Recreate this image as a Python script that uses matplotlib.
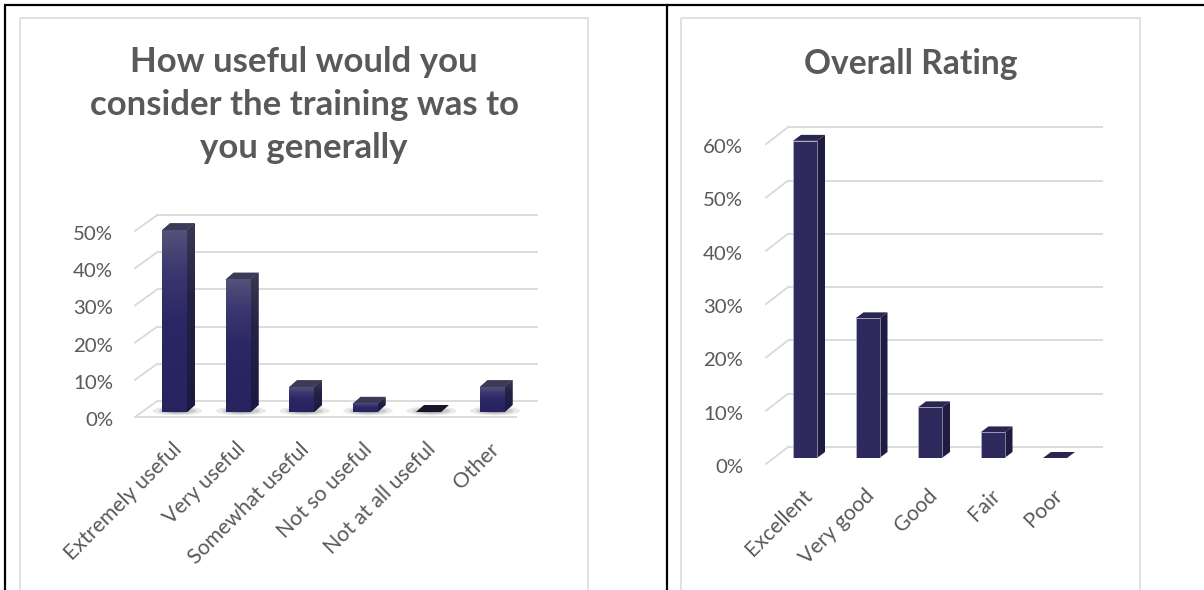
import matplotlib
matplotlib.use("Agg")
import matplotlib.pyplot as plt
import numpy as np
from matplotlib.patches import Polygon, Rectangle, Ellipse
from matplotlib.colors import LinearSegmentedColormap

# ---------------- data ----------------
useful_title = ["How useful would you", "consider the training was to", "you generally"]
useful_categories = ["Extremely useful", "Very useful", "Somewhat useful",
                     "Not so useful", "Not at all useful", "Other"]
useful_values = [48.9, 35.6, 6.7, 2.2, 0.0, 6.7]
useful_ticks = [0, 10, 20, 30, 40, 50]

rating_title = ["Overall Rating"]
rating_categories = ["Excellent", "Very good", "Good", "Fair", "Poor"]
rating_values = [59.5, 26.2, 9.5, 4.8, 0.0]
rating_ticks = [0, 10, 20, 30, 40, 50, 60]

# ---------------- style ----------------
W, H, DPI = 1204, 590, 100
TEXT = "#595959"
GRID = "#d9d9d9"
FONT = "Lato"
plt.rcParams["font.family"] = [FONT, "DejaVu Sans"]

fig = plt.figure(figsize=(W / DPI, H / DPI), dpi=DPI)
fig.patch.set_facecolor("white")
bg = fig.add_axes([0, 0, 1, 1])
bg.set_xlim(0, W)
bg.set_ylim(H, 0)
bg.axis("off")

# table borders (document frame)
blk = dict(color="black", lw=1.6, solid_capstyle="butt")
bg.plot([3.5, W], [4.5, 4.5], **blk)
bg.plot([4.5, 4.5], [4.5, H], **blk)
bg.plot([666.5, 666.5], [4.5, H], **blk)
# chart areas
bg.add_patch(Rectangle((20, 18), 568, 620, fill=False, ec="#d9d9d9", lw=1.1))
bg.add_patch(Rectangle((681, 18), 459, 620, fill=False, ec="#d9d9d9", lw=1.1))

renderer = fig.canvas.get_renderer()


def fit_size(texts, probe, target_px):
    """scale font size of a text group so that the probe text has the target width"""
    w = probe.get_window_extent(renderer).width
    s = probe.get_fontsize() * target_px / w
    for t in texts:
        t.set_fontsize(s)
    return s


# titles
lt = [bg.text(304, y, s, ha="center", va="baseline", color=TEXT,
              fontsize=24, fontweight="bold")
      for s, y in zip(useful_title, [72, 115, 158])]
fit_size(lt, lt[1], 429)
rt = [bg.text(911, 74, rating_title[0], ha="center", va="baseline", color=TEXT,
              fontsize=24, fontweight="bold")]
fit_size(rt, rt[0], 214)

face_cmap = LinearSegmentedColormap.from_list(
    "face", [(0, "#27235f"), (0.5, "#2b2766"), (0.78, "#3b386f"), (1, "#54517a")])
side_cmap = LinearSegmentedColormap.from_list(
    "side", [(0, "#1c1940"), (0.6, "#242146"), (1, "#3a3852")])


def draw_chart(cats, vals, ticks, c0, slot, base, ppy, bar_px, depth, back, front,
               back_len, floor_len, label_right, xlab_dy, gradient):
    n = len(cats)
    ymax = ticks[-1]
    left = c0 - slot / 2
    ax = fig.add_axes([left / W, (H - base) / H, slot * n / W, ymax * ppy / H])
    ax.axis("off")
    ux, uy = 1.0 / slot, 1.0 / ppy
    x_left = -0.5

    ytexts, xtexts = [], []
    xb0 = x_left + back[0] * ux
    xf0 = x_left + front[0] * ux
    for g in ticks:
        yb = g + back[1] * uy
        yf = g - front[1] * uy
        ax.plot([xb0, xb0 + back_len * ux], [yb, yb], color=GRID, lw=1.3,
                clip_on=False, zorder=1, solid_capstyle="butt")
        ax.plot([xf0, xb0], [yf, yb], color=GRID, lw=1.3, clip_on=False, zorder=1)
        ytexts.append(ax.text(x_left + (label_right - left) * ux, yf - 2 * uy, f"{g}%",
                              ha="right", va="center_baseline", color=TEXT, fontsize=14.5))
    if floor_len:
        yf = -front[1] * uy
        ax.plot([xf0, xf0 + floor_len * ux], [yf, yf], color=GRID, lw=1.3,
                clip_on=False, zorder=1, solid_capstyle="butt")

    w = bar_px * ux
    dx, dy = depth[0] * ux, depth[1] * uy
    for i, v in enumerate(vals):
        x0, x1 = i - w / 2, i + w / 2
        if gradient:
            for k, a in zip([1.0, 0.75, 0.5], [0.10, 0.16, 0.22]):
                ax.add_patch(Ellipse((i + 3 * ux, 1.2 * uy), 50 * ux * k,
                                     9 * uy * k, color="#303030", alpha=a,
                                     lw=0, zorder=2, clip_on=False))
        side = Polygon([(x1, 0), (x1 + dx, dy), (x1 + dx, v + dy), (x1, v)],
                       closed=True, fc="#1f1c42", ec="none", zorder=3, clip_on=False)
        ax.add_patch(side)
        if gradient and v > 0:
            im = ax.imshow(np.linspace(0, 1, 64).reshape(-1, 1), cmap=side_cmap,
                           extent=(x1, x1 + dx, 0, v + dy), origin="lower",
                           aspect="auto", zorder=3.5, interpolation="bilinear")
            im.set_clip_path(side)
        cap_col = "#3c3a57" if gradient else "#29264f"
        if gradient and v == 0:
            cap_col = "#16152a"
        ax.add_patch(Polygon([(x0, v), (x0 + dx, v + dy), (x1 + dx, v + dy), (x1, v)],
                             closed=True, fc=cap_col, ec="none", zorder=4, clip_on=False))
        if v > 0:
            if gradient:
                ax.imshow(np.linspace(0, 1, 128).reshape(-1, 1), cmap=face_cmap,
                          extent=(x0, x1, 0, v), origin="lower", aspect="auto",
                          zorder=5, interpolation="bilinear")
            else:
                ax.bar(i, v, width=w, color="#2e2a5e", edgecolor="#c3c3d3",
                       linewidth=0.4, zorder=5)

    for i, c in enumerate(cats):
        xtexts.append(ax.text(i - 3 * ux, -xlab_dy * uy, c, rotation=0,
                              ha="right", va="top", color=TEXT, fontsize=14.5))

    ax.set_xlim(-0.5, n - 0.5)
    ax.set_ylim(0, ymax)
    return ax, ytexts, xtexts


ax1, y1, x1t = draw_chart(useful_categories, useful_values, useful_ticks,
                          c0=174.5, slot=63.5, base=412, ppy=3.72, bar_px=25, depth=(8, 7),
                          back=(14.5, 11), front=(-7.75, 5), back_len=381, floor_len=382,
                          label_right=113, xlab_dy=27, gradient=True)
ax2, y2, x2t = draw_chart(rating_categories, rating_values, rating_ticks,
                          c0=805, slot=62.5, base=458, ppy=5.33, bar_px=24, depth=(8, 6),
                          back=(14.25, 11), front=(-7.75, 6), back_len=315, floor_len=0,
                          label_right=743, xlab_dy=27, gradient=False)

# tick labels: "50%" ~40 px wide
fit_size(y1 + y2, y1[5], 40)
# category labels: "Extremely useful" ~156 px long (measured unrotated)
fit_size(x1t + x2t, x1t[0], 156)
for t in x1t + x2t:
    t.set_rotation(45)
    t.set_rotation_mode("anchor")

fig.savefig("out.png", dpi=DPI, facecolor="white")
